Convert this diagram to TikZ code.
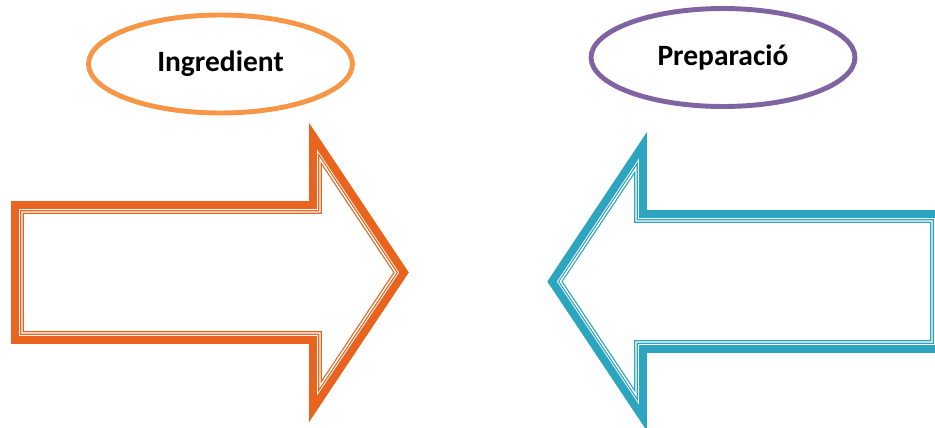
\documentclass[tikz,border=0pt]{standalone}
\usepackage{fontspec}
\setmainfont{Carlito}
\usetikzlibrary{shapes.geometric}
\definecolor{arroworange}{HTML}{E9651F}
\definecolor{arrowblue}{HTML}{2DA4C0}
\definecolor{lightorange}{HTML}{F79646}
\definecolor{lilac}{HTML}{8064A2}
\newcommand{\blockarrow}[4]
{
	\begin{scope}[shift={#2}, xscale=#4]
		\draw[outerline, draw=#1] (-#3,-67.5) -- (0,-67.5) -- (0,-136.5) -- (91,0) -- (0,136.5) -- (0,67.5) -- (-#3,67.5) -- cycle;
		\draw[innerline, draw=#1] ({7-#3},-60.5) -- (7,-60.5) -- (7,-113.5) -- (82.6,0) -- (7,113.5) -- (7,60.5) -- ({7-#3},60.5) -- cycle;
	\end{scope}
}

\begin{document}
\begin{tikzpicture}[x=0.02cm, y=-0.02cm,
	outerline/.style={line width=4.5pt, line join=miter},
	innerline/.style={line width=0.7pt, double=white, double distance=0.8pt},
	bubble/.style={shape=ellipse, line width=2.8pt, minimum width=5.28cm, minimum height=1.96cm, font=\bfseries\fontsize{16.8}{20}\selectfont}]
	\useasboundingbox (0,0) rectangle (935,427);
	\node[bubble, draw=lightorange] (ingr) at (220.5,64) {Ingredient};
	\node[bubble, draw=lilac] (prep) at (723,57.5) {Preparació};
	\blockarrow{arroworange}{(313,272.5)}{298}{1};
	\blockarrow{arrowblue}{(643,281.5)}{296}{-1};
\end{tikzpicture}
\end{document}
